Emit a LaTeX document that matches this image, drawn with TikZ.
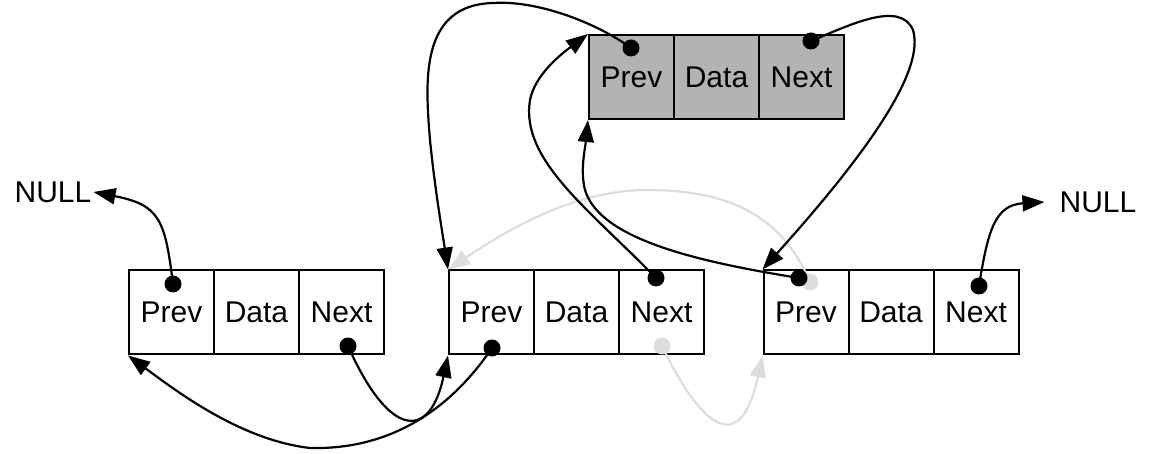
\documentclass[tikz,border=0pt]{standalone}
\usepackage{fontspec}
\setmainfont{Liberation Sans}
\usetikzlibrary{arrows.meta}
\definecolor{boxgray}{RGB}{179,179,179}
\definecolor{ghost}{RGB}{221,221,221}
\begin{document}
\begin{tikzpicture}[x=1pt,y=-1pt,
  cell/.style={draw, line width=2pt, minimum width=85pt, minimum height=84pt, inner sep=0pt, font=\fontsize{30}{36}\selectfont},
  topcell/.style={cell, fill=boxgray},
  dot/.style={circle, fill=black, minimum size=17pt, inner sep=0pt},
  gdot/.style={circle, fill=ghost, minimum size=17pt, inner sep=0pt},
  conn/.style={line width=2.2pt, -{Triangle[length=22pt,width=16pt]}},
  gconn/.style={conn, draw=ghost},
  lbl/.style={font=\fontsize{30}{36}\selectfont, inner sep=2pt}]
\useasboundingbox (0,0) rectangle (1152,454);

% labels
\node[lbl] (nullL) at (53,192) {NULL};
\node[lbl] (nullR) at (1098,202) {NULL};

% cells
\node[cell] (aP) at (171.5,312.5) {Prev};
\node[cell] (aD) at (256.5,312.5) {Data};
\node[cell] (aN) at (341.5,312.5) {Next};
\node[cell] (bP) at (491.5,312.5) {Prev};
\node[cell] (bD) at (576.5,312.5) {Data};
\node[cell] (bN) at (661.5,312.5) {Next};
\node[cell] (cP) at (806,312.5) {Prev};
\node[cell] (cD) at (891,312.5) {Data};
\node[cell] (cN) at (976,312.5) {Next};
\node[topcell] (tP) at (631.5,77) {Prev};
\node[topcell] (tD) at (716.5,77) {Data};
\node[topcell] (tN) at (801.5,77) {Next};

% ghost dots and connectors
\node[gdot] (cPg) at (810,282) {};
\node[gdot] (bNg) at (662,346) {};
\draw[gconn] (cPg.center) .. controls (780,210) and (720,190) .. (647,190)
   .. controls (570,190) and (500,235) .. (bP.north west);
\draw[gconn] (bNg.center) .. controls (700,425) and (740,460) .. (cP.south west);

% dots
\node[dot] (aPd) at (173,284) {};
\node[dot] (aNd) at (348,346) {};
\node[dot] (bPd) at (492,348) {};
\node[dot] (bNd) at (656,278) {};
\node[dot] (cPd) at (799,278) {};
\node[dot] (cNd) at (979,286) {};
\node[dot] (tPd) at (631,48) {};
\node[dot] (tNd) at (811,41) {};

% connectors
\draw[conn] (aPd.center) .. controls (165,220) and (160,205) .. (nullL.east);
\draw[conn] (cNd.center) .. controls (988,230) and (995,205) .. ([xshift=-13pt]nullR.west);
\draw[conn] (aNd.center) .. controls (390,440) and (430,440) .. (bP.south west);
\draw[conn] (bPd.center) .. controls (450,410) and (390,450) .. (310,448)
   .. controls (240,440) and (175,390) .. (aP.south west);
\draw[conn] (tPd.center) .. controls (600,25) and (540,0) .. (493,3)
   .. controls (420,5) and (425,80) .. (430,140)
   .. controls (435,190) and (442,230) .. (bP.north west);
\draw[conn] (bNd.center) .. controls (590,210) and (520,160) .. (530,100)
   .. controls (535,75) and (560,55) .. (tP.north west);
\draw[conn] (cPd.center) .. controls (700,262) and (600,240) .. (585,190)
   .. controls (580,170) and (585,150) .. (tP.south west);
\draw[conn] (tNd.center) .. controls (850,25) and (900,0) .. (913,30)
   .. controls (925,70) and (870,150) .. (cP.north west);
\end{tikzpicture}
\end{document}
